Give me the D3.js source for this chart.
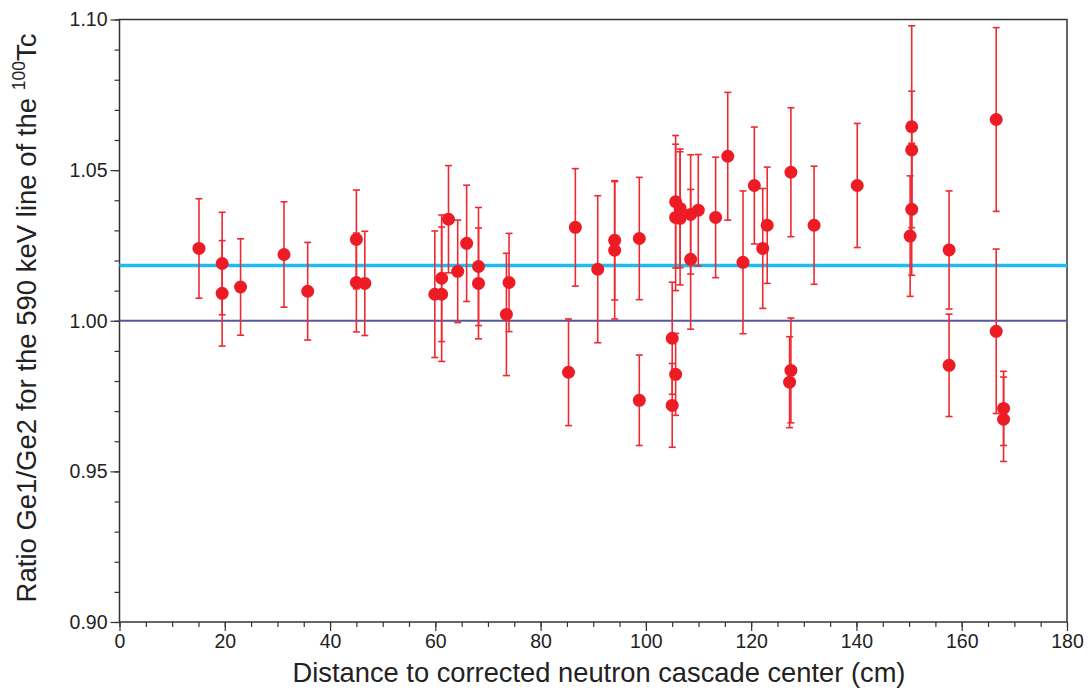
<!DOCTYPE html>
<html>
<head>
<meta charset="utf-8">
<script src="https://cdn.jsdelivr.net/npm/d3@7"></script>
<style>
  body { margin: 0; background: #fff; }
  svg text { font-family: "Liberation Sans", Arial, sans-serif; fill: #222; }
</style>
</head>
<body>
<div id="chart"></div>
<script>
// distance (cm), ratio Ge1/Ge2, error
const distance = [15.1, 19.5, 19.5, 23.0, 31.25, 35.75, 45.0, 45.0, 46.6, 59.9,
  61.2, 61.2, 62.5, 64.25, 65.95, 68.2, 68.2, 73.5, 74.0, 85.3,
  86.6, 90.85, 94.07, 94.07, 98.75, 98.75, 105.0, 105.0, 105.65, 105.65,
  105.65, 106.5, 106.5, 108.5, 108.5, 109.95, 113.25, 115.55, 118.45, 120.6,
  122.2, 123.05, 127.55, 127.55, 127.3, 131.95, 140.15, 150.5, 150.5, 150.5,
  150.2, 157.6, 157.6, 166.55, 166.55, 167.95, 167.95];
const ratio = [1.024, 1.019, 1.0091, 1.0112, 1.022, 1.0098, 1.027, 1.0127, 1.0124, 1.0088,
  1.0088, 1.0141, 1.0337, 1.0164, 1.0257, 1.018, 1.0124, 1.0021, 1.0127, 0.9829,
  1.031, 1.0171, 1.0267, 1.0234, 1.0273, 0.9736, 0.9942, 0.9719, 0.9822, 1.0395,
  1.0343, 1.0373, 1.034, 1.0353, 1.0204, 1.0367, 1.0343, 1.0546, 1.0194, 1.0449,
  1.024, 1.0317, 1.0493, 0.9835, 0.9796, 1.0317, 1.0449, 1.0644, 1.0567, 1.037,
  1.0281, 1.0235, 0.9852, 1.0668, 0.9965, 0.9709, 0.9673];
const ratioErr = [0.0165, 0.017, 0.0175, 0.016, 0.0175, 0.0162, 0.0164, 0.0164, 0.0173, 0.021,
  0.0223, 0.021, 0.0178, 0.017, 0.0193, 0.0196, 0.0184, 0.0203, 0.0163, 0.0177,
  0.0195, 0.0244, 0.0198, 0.0228, 0.0203, 0.015, 0.0186, 0.0139, 0.0136, 0.022,
  0.0243, 0.0197, 0.0221, 0.0198, 0.0232, 0.0185, 0.02, 0.0212, 0.0237, 0.0194,
  0.0199, 0.0193, 0.0214, 0.0174, 0.0151, 0.0196, 0.0206, 0.0335, 0.0195, 0.0219,
  0.02, 0.0196, 0.017, 0.0305, 0.0273, 0.0123, 0.014];

const meanRatio = 1.0183;
const unityRatio = 1.0;
const xTicks = [0, 20, 40, 60, 80, 100, 120, 140, 160, 180];
const yTicks = [0.90, 0.95, 1.00, 1.05, 1.10];

const points = distance.map((d, i) => ({ x: d, y: ratio[i], e: ratioErr[i] }));

const margin = { top: 19.5, right: 21, bottom: 71, left: 119.5 };
const fullW = 1088, fullH = 693;
const width = fullW - margin.left - margin.right;
const height = fullH - margin.top - margin.bottom;

const svg = d3.select("#chart").append("svg")
  .attr("width", fullW)
  .attr("height", fullH);
const g = svg.append("g")
  .attr("transform", `translate(${margin.left},${margin.top})`);

const x = d3.scaleLinear().domain([0, 180]).range([0, width]);
const y = d3.scaleLinear().domain([0.90, 1.10]).range([height, 0]);

// minor ticks
g.append("g")
  .attr("transform", `translate(0,${height})`)
  .call(d3.axisBottom(x).tickValues(d3.range(0, 181, 5)).tickSize(5).tickFormat(""))
  .call(a => a.select(".domain").remove())
  .selectAll("line").attr("stroke", "#333").attr("stroke-width", 1.2);
g.append("g")
  .call(d3.axisLeft(y).tickValues(d3.range(0, 21).map(i => 0.90 + i * 0.01)).tickSize(5).tickFormat(""))
  .call(a => a.select(".domain").remove())
  .selectAll("line").attr("stroke", "#333").attr("stroke-width", 1.2);

// major ticks + labels
const xAxis = g.append("g")
  .attr("transform", `translate(0,${height})`)
  .call(d3.axisBottom(x).tickValues(xTicks).tickSize(9).tickPadding(3).tickFormat(d3.format("d")));
xAxis.select(".domain").remove();
xAxis.selectAll("line").attr("stroke", "#333").attr("stroke-width", 1.2);
xAxis.selectAll("text").attr("font-size", 19.5).attr("fill", "#222");

const yAxis = g.append("g")
  .call(d3.axisLeft(y).tickValues(yTicks).tickSize(9).tickPadding(3).tickFormat(d3.format(".2f")));
yAxis.select(".domain").remove();
yAxis.selectAll("line").attr("stroke", "#333").attr("stroke-width", 1.2);
yAxis.selectAll("text").attr("font-size", 19.5).attr("fill", "#222");

// frame
g.append("rect")
  .attr("width", width).attr("height", height)
  .attr("fill", "none").attr("stroke", "#333").attr("stroke-width", 1.5);

// reference lines
g.append("line")
  .attr("x1", 0).attr("x2", width)
  .attr("y1", y(unityRatio)).attr("y2", y(unityRatio))
  .attr("stroke", "#5656a3").attr("stroke-width", 2);
g.append("line")
  .attr("x1", 0).attr("x2", width)
  .attr("y1", y(meanRatio)).attr("y2", y(meanRatio))
  .attr("stroke", "#1dbdef").attr("stroke-width", 3.5);

// error bars
const bars = g.append("g").attr("stroke", "#ee2a30").attr("stroke-width", 1.6);
bars.selectAll(".err").data(points).enter().append("line")
  .attr("x1", d => x(d.x)).attr("x2", d => x(d.x))
  .attr("y1", d => y(d.y - d.e)).attr("y2", d => y(d.y + d.e));
bars.selectAll(".capTop").data(points).enter().append("line")
  .attr("x1", d => x(d.x) - 3.5).attr("x2", d => x(d.x) + 3.5)
  .attr("y1", d => y(d.y + d.e)).attr("y2", d => y(d.y + d.e));
bars.selectAll(".capBot").data(points).enter().append("line")
  .attr("x1", d => x(d.x) - 3.5).attr("x2", d => x(d.x) + 3.5)
  .attr("y1", d => y(d.y - d.e)).attr("y2", d => y(d.y - d.e));

// points
g.selectAll(".dot").data(points).enter().append("circle")
  .attr("cx", d => x(d.x))
  .attr("cy", d => y(d.y))
  .attr("r", 6.5)
  .attr("fill", "#ed1c24");

// axis titles
svg.append("text")
  .attr("x", 599).attr("y", 682)
  .attr("text-anchor", "middle")
  .attr("font-size", 27.3)
  .text("Distance to corrected neutron cascade center (cm)");

const yTitle = svg.append("text")
  .attr("transform", `translate(36,318) rotate(-90)`)
  .attr("text-anchor", "middle")
  .attr("font-size", 27.5);
yTitle.append("tspan").text("Ratio Ge1/Ge2 for the 590 keV line of the ");
yTitle.append("tspan").attr("font-size", 17.5).attr("dy", -11).text("100");
yTitle.append("tspan").attr("dy", 11).text("Tc");
</script>
</body>
</html>
